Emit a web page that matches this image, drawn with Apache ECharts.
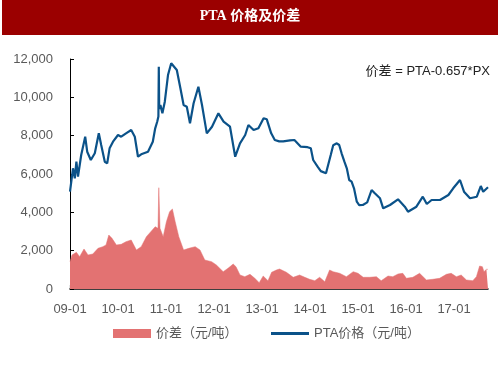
<!DOCTYPE html>
<html>
<head>
<meta charset="utf-8">
<script src="https://cdn.jsdelivr.net/npm/echarts@6/dist/echarts.min.js"></script>
<style>html,body{margin:0;padding:0;background:#fff}#c{width:500px;height:375px}</style>
</head>
<body>
<div id="c"></div>
<script>
// x = months since 2009-01
const xTickMonths = [0, 12, 24, 36, 48, 60, 72, 84, 96];
const xTickLabels = ['09-01', '10-01', '11-01', '12-01', '13-01', '14-01', '15-01', '16-01', '17-01'];

const ptaMonths = [0,0.75,1.2,1.6,2,2.8,3.8,4.3,5.2,6.2,7.2,7.8,8.7,9.3,9.9,10.75,12,12.8,14,15.3,16.2,17,17.8,19.5,20.7,21.3,21.8,22.1,22.2,22.3,22.6,23.1,23.7,24.5,25.3,25.6,26.7,27.6,28.4,29.2,30,30.9,32.1,33,34.2,35.5,37.1,38.4,40,41.3,42.5,43.8,44.6,45.9,47.1,48.4,49.2,49.7,50.3,51.2,52.3,53.3,55,56.1,57.7,59.4,60.2,60.8,61.9,62.7,64,65.2,65.8,66.7,67.3,67.9,68.6,69.2,69.8,70.4,71,71.7,72.3,73.2,74.3,75.4,76.2,77.5,78.3,80,82,83.7,84.5,86.6,88.2,89.2,90.4,92.5,94.6,95.8,97.5,98.5,100,101.7,102.7,103.3,104.5];
const ptaValues = [5076,6297,5775,6641,5859,6991,7945,7163,6730,7080,8123,7512,6641,6558,7340,7685,8034,7945,8123,8295,7945,6902,7027,7163,7685,8384,8729,9000,11597,9400,9600,9166,9772,11164,11775,11700,11425,10470,9600,9511,8645,9688,10554,9600,8123,8467,9166,8729,8467,6902,7601,8034,8556,8295,8384,8905,8853,8817,8123,7773,7700,7700,7750,7773,7424,7400,7340,6730,6380,6150,6036,7000,7500,7601,7512,7080,6641,6297,5687,5598,5254,4554,4380,4382,4520,5165,4993,4732,4210,4382,4680,4293,4033,4293,4815,4434,4643,4643,4904,5254,5687,5076,4732,4815,5373,5076,5306];

const spreadMonths = [0,0.5,1.6,2.4,3.5,4.5,5.7,7,8.2,9,9.7,10.5,11.6,12.8,14,15.3,16.6,17.8,19.1,20.2,21.3,22,22.1,22.2,22.4,22.5,22.8,23.3,24.1,24.9,25.6,26.3,27.2,28.4,29.7,31.3,32.5,33.7,35.4,36.6,38.3,39.5,40.8,41.5,42.5,43.7,45,46.2,47.3,48.3,49.5,50.4,51.6,52.4,54.1,55.8,57.4,58.7,59.9,61.2,62.4,63.7,64.9,65.8,67.4,69.1,70.8,72,73.3,74.9,76.6,77.8,79.5,80.7,82,83.2,84.1,85.7,87.4,89.1,90.7,92.4,94.1,95.3,96.6,97.8,99.1,100.7,101.6,102.4,103.1,103.5,104.1,104.5];
const spreadValues = [1426,1774,1913,1687,2087,1774,1826,2122,2209,2296,2817,2643,2296,2330,2470,2556,2035,2209,2730,2991,3250,3166,3200,5285,5200,3166,3166,2730,3511,4033,4174,3511,2730,2035,2122,2209,2035,1513,1426,1252,903,1079,1304,1163,730,642,767,558,330,678,433,871,991,1043,871,610,730,610,506,433,610,381,991,903,819,642,903,819,610,610,642,433,678,642,782,819,558,610,819,470,506,558,767,819,642,730,470,433,642,1200,1163,903,1026,1026];

const yTicks = [0, 2000, 4000, 6000, 8000, 10000, 12000];

const chart = echarts.init(document.getElementById('c'), null, {renderer: 'canvas'});
const labelColor = '#595959';
const fontFam = 'Arial, "Liberation Sans", "Noto Sans CJK SC", sans-serif';

chart.setOption({
  animation: false,
  backgroundColor: '#fff',
  graphic: [
    {type: 'rect', left: 2, top: 0, shape: {width: 496, height: 35}, style: {fill: '#9B0000'}, z: 0},
    {type: 'text', left: 'center', top: 9, style: {text: 'PTA 价格及价差', fill: '#fff', font: 'bold 14px "Liberation Serif", "Noto Sans CJK SC", serif'}, z: 1},
    {type: 'text', right: 10, top: 65, style: {text: '价差 = PTA-0.657*PX', fill: '#222', font: '13px ' + fontFam}, z: 5}
  ],
  grid: {left: 70, right: 12, top: 59, bottom: 86, containLabel: false},
  legend: [
    {data: [{name: '价差（元/吨）', icon: 'rect'}], left: 108, top: 322, itemWidth: 38, itemHeight: 9, itemGap: 10,
     textStyle: {color: labelColor, fontSize: 13, fontFamily: fontFam}},
    {data: [{name: 'PTA价格（元/吨）', icon: 'rect'}], left: 266, top: 322, itemWidth: 38, itemHeight: 3, itemGap: 10,
     textStyle: {color: labelColor, fontSize: 13, fontFamily: fontFam}}
  ],
  xAxis: {
    type: 'value', min: 0, max: 104.5, interval: 12,
    splitLine: {show: false},
    axisLine: {lineStyle: {color: '#000', width: 1.5}},
    axisTick: {inside: true, length: 4, lineStyle: {color: '#000', width: 1.2}, customValues: xTickMonths},
    axisLabel: {customValues: xTickMonths, color: labelColor, fontSize: 13, fontFamily: fontFam, margin: 14,
      formatter: v => { const i = xTickMonths.indexOf(v); return i >= 0 ? xTickLabels[i] : ''; }}
  },
  yAxis: {
    type: 'value', min: 0, max: 12000, interval: 2000,
    splitLine: {show: false},
    axisLine: {show: true, lineStyle: {color: '#000', width: 1}},
    axisTick: {show: true, inside: true, length: 4, lineStyle: {color: '#000'}},
    axisLabel: {color: labelColor, fontSize: 13, fontFamily: fontFam, margin: 17,
      formatter: v => v.toLocaleString('en-US')}
  },
  series: [
    {
      name: '价差（元/吨）', type: 'line', symbol: 'none', color: '#E37272',
      lineStyle: {width: 0.5, color: '#E37272'},
      areaStyle: {color: '#E37272', opacity: 1},
      data: spreadMonths.map((m, i) => [m, spreadValues[i]]), z: 2
    },
    {
      name: 'PTA价格（元/吨）', type: 'line', symbol: 'none', color: '#0B5289',
      lineStyle: {width: 2.2, color: '#0B5289'},
      data: ptaMonths.map((m, i) => [m, ptaValues[i]]), z: 3
    }
  ]
});
</script>
</body>
</html>
